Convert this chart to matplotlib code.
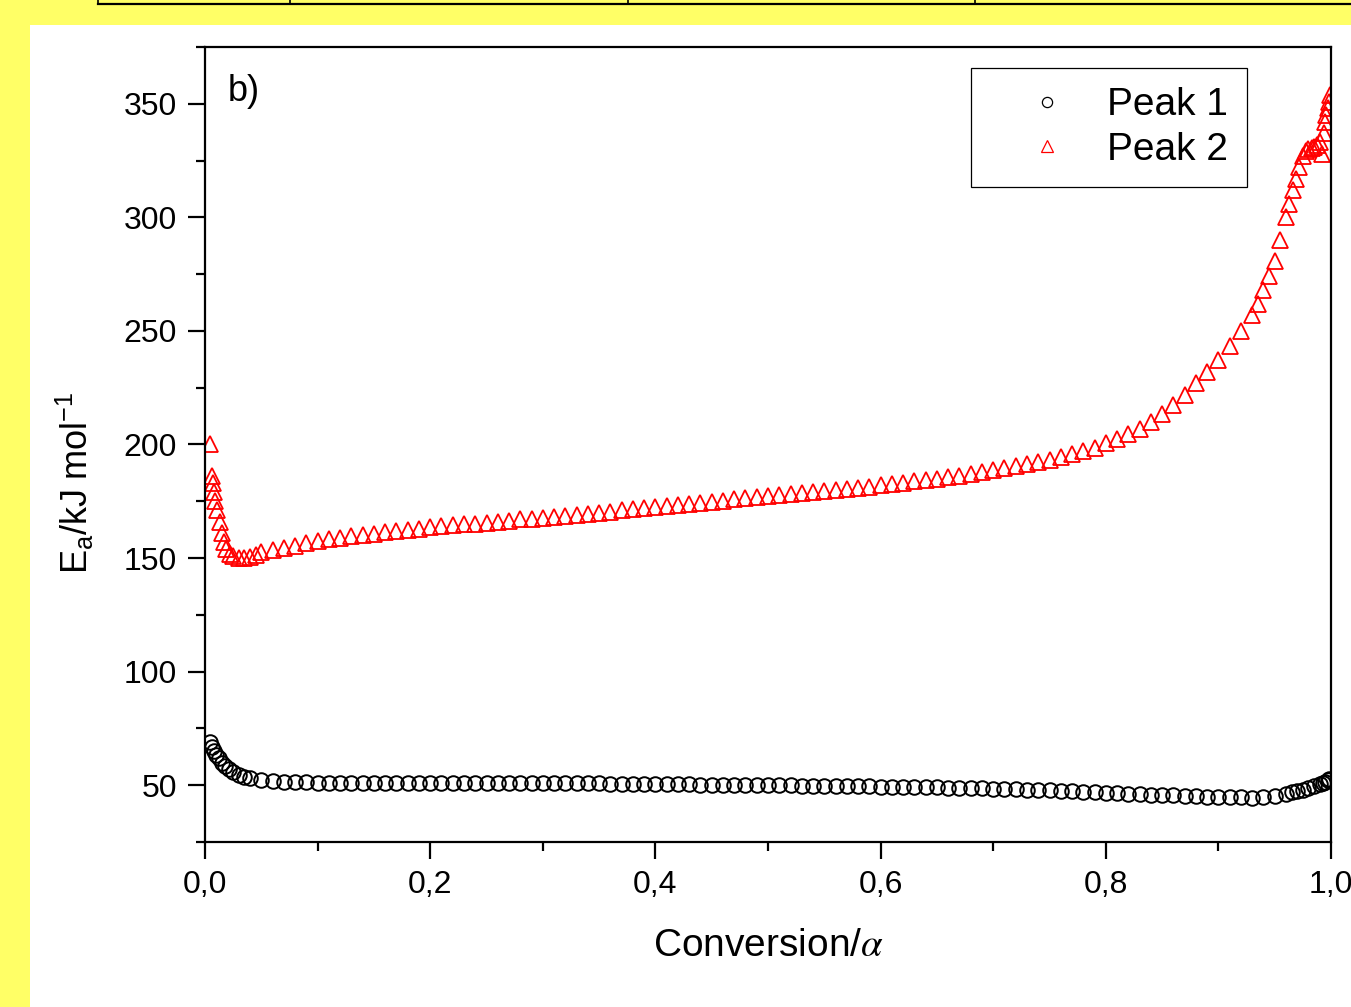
import matplotlib
matplotlib.use("Agg")
import matplotlib.pyplot as plt
from matplotlib.patches import Rectangle
from matplotlib.lines import Line2D
from matplotlib.ticker import MultipleLocator

plt.rcParams['font.family'] = ['Liberation Sans', 'DejaVu Sans']
plt.rcParams['mathtext.fontset'] = 'stix'

# Peak 1 (black circles): conversion vs activation energy
alpha_1 = [0.004, 0.006, 0.008, 0.010, 0.012, 0.015, 0.018, 0.021, 0.025, 0.030,
           0.035, 0.040, 0.050, 0.060, 0.070, 0.080, 0.090, 0.10, 0.11, 0.12,
           0.13, 0.14, 0.15, 0.16, 0.17, 0.18, 0.19, 0.20, 0.21, 0.22,
           0.23, 0.24, 0.25, 0.26, 0.27, 0.28, 0.29, 0.30, 0.31, 0.32,
           0.33, 0.34, 0.35, 0.36, 0.37, 0.38, 0.39, 0.40, 0.41, 0.42,
           0.43, 0.44, 0.45, 0.46, 0.47, 0.48, 0.49, 0.50, 0.51, 0.52,
           0.53, 0.54, 0.55, 0.56, 0.57, 0.58, 0.59, 0.60, 0.61, 0.62,
           0.63, 0.64, 0.65, 0.66, 0.67, 0.68, 0.69, 0.70, 0.71, 0.72,
           0.73, 0.74, 0.75, 0.76, 0.77, 0.78, 0.79, 0.80, 0.81, 0.82,
           0.83, 0.84, 0.85, 0.86, 0.87, 0.88, 0.89, 0.90, 0.91, 0.92,
           0.93, 0.94, 0.95, 0.96, 0.965, 0.97, 0.975, 0.98, 0.985, 0.99,
           0.993, 0.995, 0.997, 0.998]
ea_1 = [69.0, 67.0, 65.0, 63.5, 62.0, 60.0, 58.5, 57.0, 55.8, 54.5,
        53.5, 53.0, 52.2, 51.8, 51.5, 51.3, 51.2, 51.1, 51.1, 51.0,
        51.0, 51.0, 51.0, 51.0, 51.0, 51.0, 51.0, 51.0, 51.0, 51.0,
        51.0, 51.0, 51.0, 51.0, 51.0, 51.0, 51.0, 51.0, 50.9, 50.9,
        50.8, 50.8, 50.8, 50.7, 50.7, 50.7, 50.6, 50.6, 50.5, 50.5,
        50.4, 50.3, 50.3, 50.2, 50.1, 50.1, 50.0, 50.0, 49.9, 49.9,
        49.8, 49.8, 49.7, 49.6, 49.6, 49.5, 49.5, 49.4, 49.3, 49.2,
        49.2, 49.1, 49.0, 48.9, 48.8, 48.7, 48.6, 48.5, 48.4, 48.3,
        48.1, 47.9, 47.7, 47.5, 47.3, 47.1, 46.9, 46.7, 46.5, 46.3,
        46.1, 45.9, 45.7, 45.5, 45.3, 45.2, 45.0, 44.9, 44.7, 44.6,
        44.5, 44.6, 45.2, 46.3, 46.9, 47.5, 48.1, 48.8, 49.6, 50.5,
        51.1, 51.6, 52.2, 52.8]

# Peak 2 (red triangles)
alpha_2 = [0.004, 0.006, 0.007, 0.008, 0.009, 0.011, 0.013, 0.015, 0.017, 0.019,
           0.022, 0.025, 0.030, 0.035, 0.040, 0.045, 0.050, 0.060, 0.070, 0.080,
           0.090, 0.10, 0.11, 0.12, 0.13, 0.14, 0.15, 0.16, 0.17, 0.18,
           0.19, 0.20, 0.21, 0.22, 0.23, 0.24, 0.25, 0.26, 0.27, 0.28,
           0.29, 0.30, 0.31, 0.32, 0.33, 0.34, 0.35, 0.36, 0.37, 0.38,
           0.39, 0.40, 0.41, 0.42, 0.43, 0.44, 0.45, 0.46, 0.47, 0.48,
           0.49, 0.50, 0.51, 0.52, 0.53, 0.54, 0.55, 0.56, 0.57, 0.58,
           0.59, 0.60, 0.61, 0.62, 0.63, 0.64, 0.65, 0.66, 0.67, 0.68,
           0.69, 0.70, 0.71, 0.72, 0.73, 0.74, 0.75, 0.76, 0.77, 0.78,
           0.79, 0.80, 0.81, 0.82, 0.83, 0.84, 0.85, 0.86, 0.87, 0.88,
           0.89, 0.90, 0.91, 0.92, 0.93, 0.935, 0.94, 0.945, 0.95, 0.955,
           0.96, 0.963, 0.966, 0.969, 0.972, 0.975, 0.978, 0.98, 0.983, 0.985,
           0.988, 0.99, 0.992, 0.994, 0.995, 0.996, 0.997, 0.998, 0.999]
ea_2 = [200.0, 186.0, 183.0, 179.0, 175.0, 171.0, 166.0, 161.0, 157.0, 154.0,
        152.0, 151.0, 150.0, 150.0, 150.5, 151.5, 152.5, 153.5, 154.5, 155.5,
        156.5, 157.5, 158.3, 159.0, 159.7, 160.3, 160.8, 161.3, 161.8, 162.4,
        163.0, 163.5, 164.0, 164.4, 164.8, 165.2, 165.6, 166.0, 166.5, 167.0,
        167.4, 167.8, 168.2, 168.6, 169.0, 169.5, 170.0, 170.5, 171.0, 171.5,
        172.0, 172.5, 173.0, 173.4, 173.9, 174.3, 174.8, 175.3, 175.8, 176.3,
        176.8, 177.3, 177.8, 178.2, 178.7, 179.1, 179.6, 180.0, 180.5, 181.0,
        181.5, 182.0, 182.6, 183.2, 183.8, 184.4, 185.0, 185.6, 186.2, 187.0,
        187.8, 188.6, 189.5, 190.4, 191.3, 192.3, 193.3, 194.5, 195.7, 197.0,
        198.5, 200.5, 202.5, 204.5, 207.0, 210.0, 213.5, 217.5, 222.0, 227.0,
        232.0, 237.0, 243.5, 250.0, 257.0, 262.0, 268.0, 274.0, 281.0, 290.0,
        300.0, 306.0, 312.0, 317.0, 322.0, 327.0, 329.0, 330.0, 330.5, 331.0,
        332.0, 333.0, 328.0, 337.0, 342.0, 345.0, 348.0, 351.0, 354.0]

x_ticks = [0.0, 0.2, 0.4, 0.6, 0.8, 1.0]
x_tick_labels = ["0,0", "0,2", "0,4", "0,6", "0,8", "1,0"]
y_ticks = [50, 100, 150, 200, 250, 300, 350]

fig = plt.figure(figsize=(13.51, 10.07), dpi=100)
fig.patch.set_facecolor("#ffff66")

# white page area and bits of the table above it
fig.patches.append(Rectangle((30 / 1351, 0), 1, 1 - 25 / 1007, transform=fig.transFigure,
                             facecolor="white", edgecolor="none", zorder=-5))
fig.lines.append(Line2D([98 / 1351, 1], [1 - 3.5 / 1007] * 2, transform=fig.transFigure,
                        color="black", lw=1.6))
for xp in [98, 290, 628, 975]:
    fig.lines.append(Line2D([xp / 1351] * 2, [1 - 3.5 / 1007, 1], transform=fig.transFigure,
                            color="black", lw=1.2))

ax = fig.add_axes([205 / 1351, 1 - 842 / 1007, 1126 / 1351, 795 / 1007])
ax.set_zorder(2)

ax.plot(alpha_1, ea_1, linestyle="none", marker="o", ms=10.5, mfc="none",
        mec="black", mew=1.4, label="Peak 1")
ax.plot(alpha_2, ea_2, linestyle="none", marker="^", ms=11.5, mfc="none",
        mec="red", mew=1.3, label="Peak 2")

ax.set_xlim(0, 1.0)
ax.set_ylim(25, 375)
ax.set_xticks(x_ticks)
ax.set_xticklabels(x_tick_labels)
ax.set_yticks(y_ticks)
ax.xaxis.set_minor_locator(MultipleLocator(0.1))
ax.yaxis.set_minor_locator(MultipleLocator(25))
ax.tick_params(which="major", direction="out", length=12, width=1.6, labelsize=23, pad=8)
ax.tick_params(which="minor", direction="out", length=6.5, width=1.6)
ax.tick_params(top=False, right=False, which="both")
for s in ax.spines.values():
    s.set_linewidth(1.6)

ax.set_xlabel("Conversion/$\\alpha$", fontsize=28, labelpad=20)
ax.set_ylabel("$\\mathregular{E_a/kJ\\ mol^{-1}}$", fontsize=26)
ax.yaxis.set_label_coords(-0.097, 0.452)

ax.text(0.02, 0.966, "b)", transform=ax.transAxes, fontsize=26, va="top", ha="left")

leg = ax.legend(loc="upper left", bbox_to_anchor=(0.680, 0.974), fontsize=28,
                frameon=True, fancybox=False, edgecolor="black", framealpha=1,
                handlelength=2.9, handletextpad=0.1, borderpad=0.5,
                labelspacing=0.22, markerscale=0.7, borderaxespad=0)
leg.get_frame().set_linewidth(0.9)
for h in leg.legend_handles:
    h.set_markeredgewidth(0.9)

fig.savefig("out.png", dpi=100, facecolor=fig.get_facecolor())
